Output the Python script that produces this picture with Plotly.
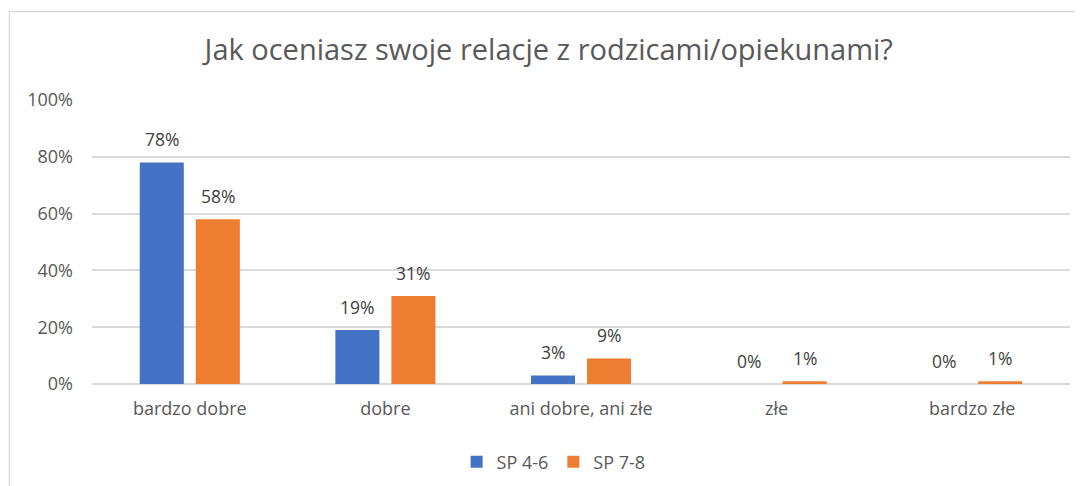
import plotly.graph_objects as go

categories = ["bardzo dobre", "dobre", "ani dobre, ani złe", "złe", "bardzo złe"]
series_names = ["SP 4-6", "SP 7-8"]
sp46 = [78, 19, 3, 0, 0]
sp78 = [58, 31, 9, 1, 1]
colors = ["#4472C4", "#ED7D31"]
y_ticks = [0, 20, 40, 60, 80, 100]
y_tick_labels = ["0%", "20%", "40%", "60%", "80%", "100%"]

FONT = "Open Sans, Lato, sans-serif"

fig = go.Figure()
for name, vals, col in zip(series_names, [sp46, sp78], colors):
    fig.add_trace(go.Bar(
        x=categories, y=vals, name=name,
        marker=dict(color=col, line=dict(width=0)),
    ))

# data labels as annotations
for idx, vals in enumerate([sp46, sp78]):
    shift = -28 if idx == 0 else 28
    for c, v in zip(categories, vals):
        fig.add_annotation(
            x=c, y=v, xref="x", yref="y", text=f"{v}%",
            showarrow=False, xshift=shift, yshift=9, yanchor="bottom",
            font=dict(family=FONT, size=17.5, color="#404040"),
        )

# chart border (top/left visible)
fig.add_shape(type="rect", xref="paper", yref="paper",
              x0=-0.0845, x1=1.03, y0=-0.45, y1=1.311,
              line=dict(color="#D9D9D9", width=1.2), fillcolor="rgba(0,0,0,0)", layer="below")

fig.update_layout(
    width=1075, height=478,
    margin=dict(l=84, r=13, t=92, b=102, autoexpand=False),
    paper_bgcolor="white", plot_bgcolor="white",
    barmode="group", bargap=0.427, bargroupgap=0.214,
    title=dict(text="Jak oceniasz swoje relacje z rodzicami/opiekunami?",
               x=0.503, xanchor="center", y=1 - 42 / 478, yanchor="middle",
               font=dict(family=FONT, size=29, color="#595959")),
    font=dict(family=FONT, color="#595959"),
    showlegend=True,
    legend=dict(orientation="h", x=0.472, xanchor="center", y=-0.2746, yanchor="middle",
                font=dict(family=FONT, size=18, color="#595959"),
                itemwidth=30, traceorder="normal"),
    xaxis=dict(showgrid=False, showline=False, zeroline=False,
               tickfont=dict(family=FONT, size=18, color="#595959"),
               ticks="", ticklabelstandoff=12, automargin=False),
    yaxis=dict(range=[0, 100], tickvals=y_ticks, ticktext=y_tick_labels,
               showgrid=True, gridcolor="#D9D9D9", gridwidth=1.5,
               zeroline=True, zerolinecolor="#D9D9D9", zerolinewidth=1.5,
               showline=False, ticks="", ticklabelstandoff=18, automargin=False,
               tickfont=dict(family=FONT, size=18, color="#595959")),
)

fig.write_html("out.html")
